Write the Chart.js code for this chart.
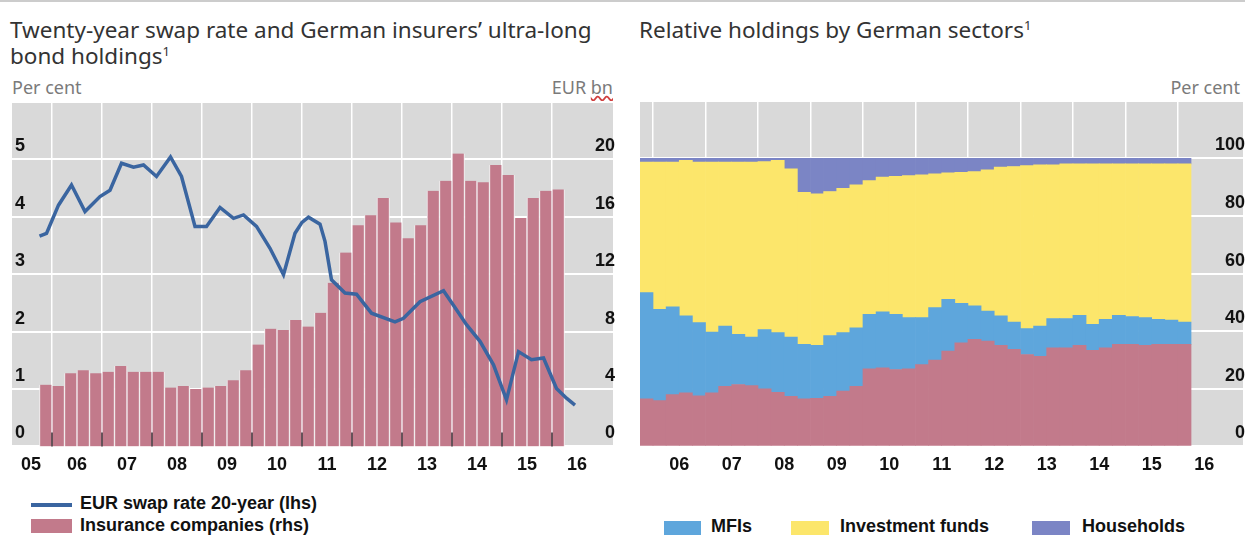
<!DOCTYPE html>
<html>
<head>
<meta charset="utf-8">
<title>Swap rate and ultra-long bond holdings</title>
<script src="https://cdn.jsdelivr.net/npm/chart.js"></script>
<style>
    body {
        margin: 0;
        background: #fff;
        font-family: "Noto Sans", sans-serif;
    }
    #page {
        position: relative;
        width: 1245px;
        height: 540px;
        overflow: hidden;
    }
    .rule {
        position: absolute;
        left: 0; top: 0;
        width: 1245px; height: 2px;
        background: #cccccc;
    }
    .title {
        position: absolute;
        top: 17px;
        font-size: 22.5px;
        line-height: 26px;
        color: #333;
        white-space: nowrap;
    }
    .title sup { font-size: 13px; vertical-align: 8px; line-height: 0; }
    .unit {
        position: absolute;
        top: 75px;
        font-size: 18px;
        color: #7a7a7a;
    }
    .unit .typo { text-decoration: underline wavy #d04040; }
    canvas { position: absolute; }
    .legend {
        position: absolute;
        font-family: "Liberation Sans", sans-serif;
        font-size: 18px;
        font-weight: bold;
        color: #111;
    }
    .legend div { position: absolute; white-space: nowrap; }
    .sw { position: absolute; }
</style>
</head>
<body>
<div id="page">
    <div class="rule"></div>

    <div class="title" style="left:10px">Twenty-year swap rate and German insurers’ ultra-long<br>bond holdings<sup>1</sup></div>
    <div class="unit" style="left:12px">Per cent</div>
    <div class="unit" style="right:632px">EUR <span class="typo">bn</span></div>
    <canvas id="left" width="620" height="396" style="left:0;top:88px"></canvas>

    <div class="title" style="left:639px">Relative holdings by German sectors<sup>1</sup></div>
    <div class="unit" style="right:5px">Per cent</div>
    <canvas id="right" width="620" height="396" style="left:625px;top:88px"></canvas>

    <!-- legends -->
    <div class="legend" style="left:0;top:493px">
        <span class="sw" style="left:31px;top:10px;width:41px;height:4px;background:#3a65a0"></span>
        <div style="left:80px;top:0">EUR swap rate 20-year (lhs)</div>
        <span class="sw" style="left:31px;top:26px;width:41px;height:14px;background:#c27a8b"></span>
        <div style="left:80px;top:22px">Insurance companies (rhs)</div>
    </div>
    <div class="legend" style="left:0;top:516px">
        <span class="sw" style="left:664px;top:5px;width:37px;height:14px;background:#5ea6dc"></span>
        <div style="left:711px;top:0">MFIs</div>
        <span class="sw" style="left:791px;top:5px;width:38px;height:14px;background:#fce66b"></span>
        <div style="left:840px;top:0">Investment funds</div>
        <span class="sw" style="left:1032px;top:5px;width:38px;height:14px;background:#7b85c5"></span>
        <div style="left:1082px;top:0">Households</div>
    </div>
</div>

<script>
// Left panel: EUR 20-year swap rate (lhs, per cent), sampled off the chart
const swapDates = [2005.75, 2005.89, 2006.13, 2006.39, 2006.66, 2006.96, 2007.16, 2007.39, 2007.63, 2007.83,
    2008.09, 2008.37, 2008.59, 2008.86, 2009.09, 2009.36, 2009.63, 2009.83, 2010.09, 2010.36,
    2010.63, 2010.86, 2011.0, 2011.13, 2011.36, 2011.46, 2011.59, 2011.86, 2012.09, 2012.39,
    2012.86, 2013.03, 2013.36, 2013.83, 2014.09, 2014.29, 2014.56, 2014.83, 2015.09, 2015.33,
    2015.59, 2015.83, 2016.09, 2016.29, 2016.46];
const swapRate = [3.66, 3.71, 4.20, 4.55, 4.09, 4.35, 4.46, 4.93, 4.86, 4.90,
    4.70, 5.04, 4.70, 3.83, 3.83, 4.16, 3.97, 4.03, 3.83, 3.45,
    2.99, 3.71, 3.90, 3.99, 3.87, 3.57, 2.90, 2.67, 2.65, 2.32,
    2.17, 2.23, 2.52, 2.71, 2.38, 2.12, 1.83, 1.42, 0.81, 1.65,
    1.51, 1.54, 1.01, 0.84, 0.72];

// Quarterly categories, 2005 Q4 to 2016 Q1
const quarters = ['2005Q4',
    '2006Q1', '2006Q2', '2006Q3', '2006Q4', '2007Q1', '2007Q2', '2007Q3', '2007Q4',
    '2008Q1', '2008Q2', '2008Q3', '2008Q4', '2009Q1', '2009Q2', '2009Q3', '2009Q4',
    '2010Q1', '2010Q2', '2010Q3', '2010Q4', '2011Q1', '2011Q2', '2011Q3', '2011Q4',
    '2012Q1', '2012Q2', '2012Q3', '2012Q4', '2013Q1', '2013Q2', '2013Q3', '2013Q4',
    '2014Q1', '2014Q2', '2014Q3', '2014Q4', '2015Q1', '2015Q2', '2015Q3', '2015Q4',
    '2016Q1'];

// Insurance companies' ultra-long bond holdings (rhs, EUR bn)
const insurerHoldings = [4.3, 4.2, 5.1, 5.3, 5.1, 5.2, 5.6, 5.2, 5.2, 5.2,
    4.1, 4.2, 4.0, 4.1, 4.2, 4.6, 5.3, 7.1, 8.2, 8.1,
    8.8, 8.35, 9.3, 11.4, 13.5, 15.4, 16.1, 17.3, 15.6, 14.5,
    15.4, 17.8, 18.5, 20.4, 18.5, 18.4, 19.6, 18.9, 15.9, 17.3,
    17.8, 17.9];

// Right panel: relative holdings by sector (per cent)
const shareInsurance = [16.5, 15.9, 18.0, 18.6, 17.6, 18.6, 20.9, 21.5, 21.1, 20.0,
    18.8, 17.4, 16.5, 16.7, 17.4, 19.2, 20.9, 26.9, 27.3, 26.7,
    26.9, 28.4, 30.0, 33.1, 36.0, 37.2, 36.6, 35.1, 33.7, 31.9,
    31.3, 34.2, 34.2, 35.1, 33.4, 34.2, 35.4, 35.4, 35.1, 35.4,
    35.4, 35.4];
const shareMFIs = [36.9, 31.7, 30.5, 26.7, 25.4, 21.1, 20.9, 17.4, 16.9, 20.6,
    20.7, 20.6, 18.9, 18.4, 21.1, 20.3, 20.3, 19.0, 19.4, 19.2,
    17.8, 16.3, 18.2, 18.0, 13.7, 11.6, 10.4, 10.2, 9.5, 9.0,
    10.5, 10.2, 10.2, 10.4, 9.0, 9.9, 10.1, 9.7, 9.6, 8.7,
    8.5, 7.8];
const shareFunds = [45.3, 51.1, 50.2, 54.0, 55.7, 59.0, 56.9, 59.8, 60.7, 58.3,
    59.8, 58.4, 52.8, 52.6, 50.0, 50.1, 49.6, 46.4, 46.8, 47.9,
    49.3, 49.6, 46.4, 43.9, 45.5, 46.6, 49.0, 51.7, 54.0, 56.6,
    56.0, 53.4, 53.7, 52.6, 55.7, 54.0, 52.6, 53.0, 53.4, 54.0,
    54.2, 54.9];
const shareHouseholds = [1.3, 1.3, 1.3, 0.7, 1.3, 1.3, 1.3, 1.3, 1.3, 1.1,
    0.7, 3.6, 11.8, 12.3, 11.5, 10.4, 9.2, 7.7, 6.5, 6.2,
    6.0, 5.7, 5.4, 5.0, 4.8, 4.6, 4.0, 3.0, 2.8, 2.5,
    2.2, 2.2, 1.9, 1.9, 1.9, 1.9, 1.9, 1.9, 1.9, 1.9,
    1.9, 1.9];

// x-axis: year boundaries get a gridline, mid-year positions get a label
const leftLabelYears = [2005.58, 2006.5, 2007.5, 2008.5, 2009.5, 2010.5, 2011.5, 2012.5, 2013.5, 2014.5, 2015.5, 2016.5];
const rightLabelYears = [2006.5, 2007.5, 2008.5, 2009.5, 2010.5, 2011.5, 2012.5, 2013.5, 2014.5, 2015.5, 2016.5];
const gridYears = [2006, 2007, 2008, 2009, 2010, 2011, 2012, 2013, 2014, 2015, 2016];

const isYear = v => Math.abs(v - Math.round(v)) < 1e-6;
// centre of a quarter, as decimal year
const qMid = q => Number(q.slice(0, 4)) + (Number(q.slice(5)) - 1) * 0.25 + 0.125;

Chart.defaults.font.family = '"Liberation Sans", sans-serif';
Chart.defaults.color = '#111';
Chart.defaults.animation = false;

const plotBg = {
    id: 'plotBg',
    beforeDraw(chart) {
        const { ctx, chartArea: a } = chart;
        ctx.save();
        ctx.fillStyle = '#d9d9d9';
        ctx.fillRect(a.left, a.top, a.width, a.height);
        ctx.restore();
    }
};

// short dark year ticks standing inside the plot, on the baseline
const yearTicks = {
    id: 'yearTicks',
    afterDatasetsDraw(chart) {
        const { ctx, chartArea: a, scales } = chart;
        ctx.save();
        ctx.strokeStyle = '#3a2a30';
        ctx.lineWidth = 1.5;
        gridYears.forEach(yr => {
            const x = scales.x.getPixelForValue(yr);
            ctx.beginPath();
            ctx.moveTo(x, a.bottom);
            ctx.lineTo(x, a.bottom - 14);
            ctx.stroke();
        });
        ctx.restore();
    }
};

function xAxis(min, max, labelYears) {
    const values = gridYears.concat(labelYears).sort((a, b) => a - b);
    return {
        type: 'linear', min: min, max: max, offset: false, stacked: true,
        afterBuildTicks: s => { s.ticks = values.map(v => ({ value: v })); },
        border: { display: false },
        grid: {
            offset: false, drawTicks: false, lineWidth: 1.5,
            color: c => (c.tick && isYear(c.tick.value)) ? '#ffffff' : 'rgba(0,0,0,0)'
        },
        ticks: {
            autoSkip: false, maxRotation: 0, padding: 8,
            font: { size: 18, weight: 'bold' },
            callback: v => isYear(v) ? '' : String(Math.floor(v) % 100).padStart(2, '0')
        }
    };
}

function yAxis(pos, max, step, showGrid) {
    return {
        position: pos, min: 0, max: max, stacked: true,
        afterFit: s => { s.width = 0; },
        border: { display: false },
        grid: { display: showGrid, drawTicks: false, color: '#ffffff', lineWidth: 2 },
        ticks: {
            stepSize: step, mirror: true, padding: pos === 'left' ? 3 : 2, labelOffset: -13,
            font: { size: 18, weight: 'bold' },
            callback: v => v === max ? '' : v
        }
    };
}

new Chart(document.getElementById('left'), {
    type: 'bar',
    data: {
        datasets: [{
            type: 'line',
            label: 'EUR swap rate 20-year (lhs)',
            data: swapDates.map((d, i) => ({ x: d, y: swapRate[i] })),
            yAxisID: 'y',
            borderColor: '#3a65a0',
            borderWidth: 3.5,
            pointRadius: 0,
            tension: 0,
            order: 0
        }, {
            label: 'Insurance companies (rhs)',
            data: quarters.map((q, i) => ({ x: qMid(q), y: insurerHoldings[i] })),
            yAxisID: 'y1',
            backgroundColor: '#c27a8b',
            borderColor: '#f4eef0',
            borderWidth: { left: 1, right: 1, top: 0, bottom: 0 },
            borderSkipped: false,
            barPercentage: 1,
            categoryPercentage: 1,
            order: 1
        }]
    },
    options: {
        responsive: false,
        devicePixelRatio: 1,
        layout: { padding: { left: 12, right: 7, top: 0, bottom: 0 } },
        plugins: { legend: { display: false }, tooltip: { enabled: false } },
        scales: {
            x: xAxis(2005.2, 2017.22, leftLabelYears),
            y: yAxis('left', 6, 1, true),
            y1: yAxis('right', 24, 4, false)
        }
    },
    plugins: [plotBg, yearTicks]
});

new Chart(document.getElementById('right'), {
    type: 'bar',
    data: {
        datasets: [
            { label: 'Insurance companies', data: shareInsurance, backgroundColor: '#c27a8b' },
            { label: 'MFIs', data: shareMFIs, backgroundColor: '#5ea6dc' },
            { label: 'Investment funds', data: shareFunds, backgroundColor: '#fce66b' },
            { label: 'Households', data: shareHouseholds, backgroundColor: '#7b85c5' }
        ].map(ds => Object.assign(ds, {
            data: ds.data.map((v, i) => ({ x: qMid(quarters[i]), y: v })),
            barPercentage: 1,
            categoryPercentage: 1,
            borderWidth: 0
        }))
    },
    options: {
        responsive: false,
        devicePixelRatio: 1,
        layout: { padding: { left: 15, right: 2, top: 0, bottom: 0 } },
        plugins: { legend: { display: false }, tooltip: { enabled: false } },
        scales: {
            x: xAxis(2005.752, 2017.24, rightLabelYears),
            y: yAxis('right', 120, 20, true)
        }
    },
    plugins: [plotBg]
});
</script>
</body>
</html>
